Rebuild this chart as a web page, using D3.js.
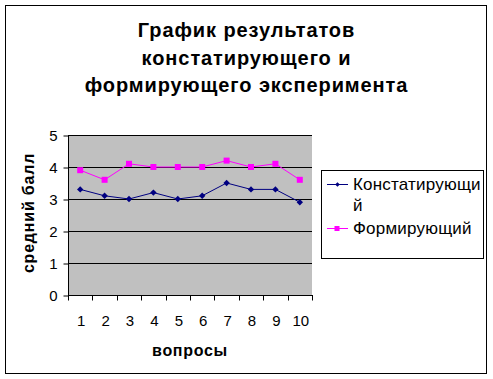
<!DOCTYPE html>
<html><head><meta charset="utf-8">
<script src="https://cdn.jsdelivr.net/npm/d3@7"></script>
<style>body{margin:0;background:#fff}svg{display:block}text{font-family:"Liberation Sans",Arial,sans-serif}</style>
</head><body>
<svg id="c" width="493" height="379"></svg>
<script>
const categories = ["1","2","3","4","5","6","7","8","9","10"];
const konstat = [3.3,3.1,3.0,3.2,3.0,3.1,3.5,3.3,3.3,2.9];
const formir = [3.9,3.6,4.1,4.0,4.0,4.0,4.2,4.0,4.1,3.6];
const yTicks = [0,1,2,3,4,5];
const seriesNames = ["Констатирующий","Формирующий"];
const titleLines = ["График результатов","констатирующего и","формирующего эксперимента"];

const svg = d3.select("#c");
svg.append("rect").attr("x",5.5).attr("y",5.5).attr("width",481).attr("height",368)
  .attr("fill","#fff").attr("stroke","#000").attr("stroke-width",1);

const L=68, R=312, T=135, B=295;
const x = d3.scaleBand().domain(categories).range([L,R]);
const y = d3.scaleLinear().domain([0,5]).range([B,T]);

svg.append("rect").attr("x",L).attr("y",T).attr("width",R-L).attr("height",B-T).attr("fill","#C0C0C0");

// gridlines
svg.append("g").selectAll("line").data(yTicks.filter(d=>d>0)).join("line")
  .attr("x1",L).attr("x2",R).attr("y1",d=>Math.round(y(d))+0.5).attr("y2",d=>Math.round(y(d))+0.5)
  .attr("stroke","#000").attr("stroke-width",1);

// y axis
const ya = svg.append("g").attr("transform",`translate(${L+0.5},0.5)`)
  .call(d3.axisLeft(y).tickValues(yTicks).tickSize(5).tickPadding(6).tickFormat(d3.format("d")));
ya.select(".domain").attr("stroke","#000").attr("d",`M0,${T}V${B}`);
ya.selectAll("text").attr("font-size",15).attr("fill","#000").attr("font-family","Liberation Sans, Arial, sans-serif");

// x axis
const xa = svg.append("g").attr("transform",`translate(0,${B+0.5})`);
xa.append("line").attr("x1",L).attr("x2",R+1).attr("y1",0).attr("y2",0).attr("stroke","#000");
const bounds = categories.map(c=>x(c)).concat([R]);
xa.selectAll("line.t").data(bounds).join("line").attr("class","t")
  .attr("x1",d=>Math.round(d)+0.5).attr("x2",d=>Math.round(d)+0.5).attr("y1",0).attr("y2",5).attr("stroke","#000");
xa.selectAll("text").data(categories).join("text")
  .attr("x",d=>x(d)+x.bandwidth()/2+1).attr("y",30).attr("text-anchor","middle")
  .attr("font-size",15).attr("fill","#000").text(d=>d);

const cx = d=>x(d)+x.bandwidth()/2;
const line = d3.line().x((d,i)=>cx(categories[i])).y(d=>y(d));

svg.append("path").datum(formir).attr("d",line).attr("fill","none").attr("stroke","#FF00FF").attr("stroke-width",1);
svg.append("path").datum(konstat).attr("d",line).attr("fill","none").attr("stroke","#000080").attr("stroke-width",1);

svg.append("g").selectAll("rect").data(formir).join("rect")
  .attr("x",(d,i)=>cx(categories[i])-3).attr("y",d=>y(d)-3).attr("width",6).attr("height",6).attr("fill","#FF00FF");
const diamond = d3.symbol().type(d3.symbolDiamond2).size(26);
svg.append("g").selectAll("path").data(konstat).join("path")
  .attr("transform",(d,i)=>`translate(${cx(categories[i])},${y(d)})`).attr("d",diamond).attr("fill","#000080");

// title
svg.append("g").selectAll("text").data(titleLines).join("text")
  .attr("x",246.5).attr("y",(d,i)=>37+i*27.5).attr("text-anchor","middle")
  .attr("font-size",20).attr("font-weight","bold").attr("letter-spacing",0.9).attr("fill","#000").text(d=>d);

// axis titles
svg.append("text").attr("x",190).attr("y",356).attr("text-anchor","middle")
  .attr("font-size",16).attr("font-weight","bold").attr("letter-spacing",0.7).text("вопросы");
svg.append("text").attr("transform","translate(34,213) rotate(-90)").attr("text-anchor","middle")
  .attr("font-size",16).attr("font-weight","bold").attr("letter-spacing",0.8).text("средний балл");

// legend
const lg = svg.append("g");
lg.append("rect").attr("x",321.5).attr("y",170.5).attr("width",162).attr("height",88).attr("fill","#fff").attr("stroke","#000");
const legItems = [
  {name:seriesNames[0], color:"#000080", lines:["Констатирующи","й"], yy:184, marker:"d"},
  {name:seriesNames[1], color:"#FF00FF", lines:["Формирующий"], yy:228, marker:"s"}
];
legItems.forEach(it=>{
  lg.append("line").attr("x1",327).attr("x2",348).attr("y1",it.yy+0.5).attr("y2",it.yy+0.5).attr("stroke",it.color);
  if(it.marker==="s") lg.append("rect").attr("x",334.5).attr("y",it.yy-2).attr("width",5).attr("height",5).attr("fill",it.color);
  else lg.append("path").attr("transform",`translate(337.5,${it.yy+0.5})`).attr("d",d3.symbol().type(d3.symbolDiamond2).size(14)).attr("fill",it.color);
  it.lines.forEach((t,j)=>{
    lg.append("text").attr("x",353).attr("y",it.yy+6+j*21).attr("font-size",17).attr("letter-spacing",0.2).attr("fill","#000").text(t);
  });
});
</script>
</body></html>
